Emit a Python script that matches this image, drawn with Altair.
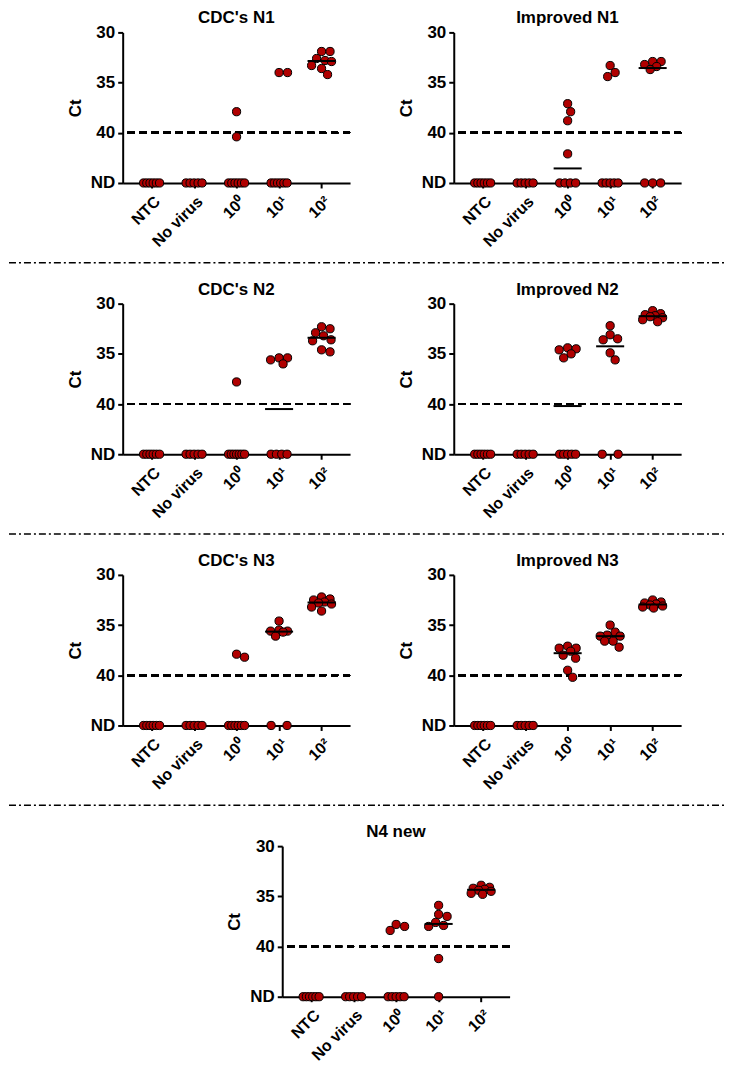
import json
import altair as alt
import pandas as pd

# ---------------- data (Ct values; None = not detected, drawn at "ND") ----------------
ND = None
CATEGORIES = ["NTC", "No virus", "10⁰", "10¹", "10²"]
PANEL_TITLES = ["CDC's N1", "Improved N1", "CDC's N2", "Improved N2",
                "CDC's N3", "Improved N3", "N4 new"]

cdc_n1 = [
    [ND] * 6,
    [ND] * 5,
    [37.9, 40.4] + [ND] * 6,
    [34.0, 34.0] + [ND] * 6,
    [31.9, 31.9, 32.6, 32.8, 32.9, 33.3, 33.6, 34.2],
]
improved_n1 = [
    [ND] * 6,
    [ND] * 5,
    [37.1, 37.9, 38.8, 42.1] + [ND] * 4,
    [33.3, 34.0, 34.4] + [ND] * 5,
    [32.9, 32.9, 33.2, 33.4, 33.7] + [ND] * 3,
]
cdc_n2 = [
    [ND] * 6,
    [ND] * 5,
    [37.8] + [ND] * 7,
    [35.4, 35.4, 35.6, 36.0] + [ND] * 4,
    [32.3, 32.5, 32.9, 33.2, 33.6, 33.7, 34.6, 34.8],
]
improved_n2 = [
    [ND] * 6,
    [ND] * 5,
    [34.4, 34.5, 34.6, 35.0, 35.4] + [ND] * 5,
    [32.2, 33.1, 33.5, 33.6, 34.9, 35.6] + [ND] * 2,
    [30.7, 31.0, 31.1, 31.2, 31.3, 31.4, 31.6, 31.8],
]
cdc_n3 = [
    [ND] * 6,
    [ND] * 5,
    [37.9, 38.2] + [ND] * 6,
    [34.6, 35.5, 35.6, 35.6, 35.7, 36.1] + [ND] * 2,
    [32.2, 32.4, 32.5, 32.7, 32.8, 32.9, 33.2, 33.6],
]
improved_n3 = [
    [ND] * 6,
    [ND] * 5,
    [37.1, 37.3, 37.3, 37.6, 38.0, 38.3, 39.5, 40.2],
    [35.0, 35.7, 36.0, 36.1, 36.1, 36.6, 36.6, 37.2],
    [32.5, 32.7, 32.8, 32.9, 33.0, 33.1, 33.2, 33.3],
]
n4_new = [
    [ND] * 6,
    [ND] * 5,
    [37.8, 38.0, 38.4] + [ND] * 5,
    [35.9, 36.8, 37.0, 37.6, 37.9, 38.0, 41.2] + [ND],
    [33.9, 34.1, 34.2, 34.3, 34.4, 34.5, 34.7, 34.8],
]
PANEL_DATA = [cdc_n1, improved_n1, cdc_n2, improved_n2, cdc_n3, improved_n3, n4_new]

ND_LEVEL = 45
Y_TICKS = [30, 35, 40, 45]
CUTOFF = 40

# ---------------- styling ----------------
FONT = "Liberation Sans"
RED = "#b00000"
W, H = 228, 151
X_DOMAIN = [-0.68, 4.67]
PX_PER_CAT = W / (X_DOMAIN[1] - X_DOMAIN[0])
PX_PER_CT = H / 15.0


def spread(values):
    """Scatter-dot-plot layout: horizontal offsets (in category units) per point."""
    rows = []
    nd = [v for v in values if v is None]
    det = sorted(v for v in values if v is not None)
    n = len(nd)
    if n == 1:
        offs = [0.0]
    else:
        offs = [-8 + i * 16.0 / (n - 1) for i in range(n)]
    for o in offs:
        rows.append((ND_LEVEL, o / PX_PER_CAT))
    placed = []
    cands = [0.0]
    for k in range(1, 25):
        cands += [k * 0.5, -k * 0.5]
    cands = [c for c in cands if abs(c) <= 10]
    dmin = 8.5
    for v in det:
        y = v * PX_PER_CT
        best = None
        for c in cands:
            if all((c - px) ** 2 + (y - py) ** 2 >= dmin ** 2 for px, py in placed):
                best = c
                break
        if best is None:
            best = max(cands, key=lambda c: min((c - px) ** 2 + (y - py) ** 2 for px, py in placed))
        placed.append((best, y))
        rows.append((v, best / PX_PER_CAT))
    return rows


def panel_frame(data):
    recs = []
    for ci, vals in enumerate(data):
        for ct, off in spread(vals):
            recs.append({"cat": ci, "x": ci + off, "ct": ct})
    return pd.DataFrame(recs)


label_expr = json.dumps(CATEGORIES) + "[datum.value]"
x_scale = alt.Scale(domain=X_DOMAIN, nice=False, zero=False)
y_scale = alt.Scale(domain=[30, ND_LEVEL], reverse=True, nice=False, zero=False)

x_axis = alt.Axis(values=list(range(len(CATEGORIES))), labelExpr=label_expr, title=None,
                  grid=False, labelAngle=-45, labelAlign="right", labelBaseline="top",
                  labelPadding=5, labelFontSize=16, labelFontWeight="bold", labelFont=FONT,
                  labelColor="black", tickSize=5, tickWidth=2, tickColor="black",
                  domainWidth=2, domainColor="black", labelOverlap=False)
y_axis = alt.Axis(values=Y_TICKS, labelExpr="datum.value == 45 ? 'ND' : datum.label",
                  title="Ct", titleFontSize=17, titleFont=FONT, titleFontWeight="bold",
                  titleColor="black", titlePadding=6, grid=False, labelFontSize=17,
                  labelFontWeight="bold", labelFont=FONT, labelColor="black", labelPadding=3,
                  tickSize=5, tickWidth=2, tickColor="black", domainWidth=2,
                  domainColor="black")


def make_panel(title, data):
    df = panel_frame(data)
    base = alt.Chart(df)
    cutoff = base.mark_rule(strokeDash=[7, 5], strokeWidth=2, color="black").encode(
        y=alt.datum(CUTOFF, scale=y_scale, axis=y_axis)
    )
    pts = base.mark_circle(size=68, color=RED, opacity=1, stroke="black", strokeWidth=1).encode(
        x=alt.X("x:Q", scale=x_scale, axis=x_axis),
        y=alt.Y("ct:Q", scale=y_scale),
    )
    med = base.transform_aggregate(
        med="median(ct)", groupby=["cat"]
    ).transform_filter(
        "datum.med < 45"
    ).transform_calculate(
        x1="datum.cat - 0.33", x2="datum.cat + 0.33"
    ).mark_rule(strokeWidth=2, color="black").encode(
        x=alt.X("x1:Q", scale=x_scale), x2="x2:Q", y=alt.Y("med:Q", scale=y_scale)
    )
    return alt.layer(cutoff, pts, med).properties(
        width=W, height=H,
        title=alt.TitleParams(title, fontSize=17, fontWeight="bold", font=FONT, color="black",
                              anchor="middle", frame="group", offset=-4),
    )


def spacer(w, h=1):
    return alt.Chart(pd.DataFrame({"a": [0]})).mark_rule(opacity=0).encode(
        x=alt.value(0), y=alt.value(0)).properties(width=w, height=h)


def separator(h, ypos):
    return alt.Chart(pd.DataFrame({"a": [0]})).mark_rule(
        strokeDash=[7, 3, 2, 3], strokeWidth=1.5, color="black"
    ).encode(x=alt.value(0), x2=alt.value(717), y=alt.value(ypos)).properties(width=717, height=h)


panels = [make_panel(t, d) for t, d in zip(PANEL_TITLES, PANEL_DATA)]

GAP = 46
row1 = alt.hconcat(spacer(11), panels[0], panels[1], spacing=GAP)
row2 = alt.hconcat(spacer(11), panels[2], panels[3], spacing=GAP)
row3 = alt.hconcat(spacer(11), panels[4], panels[5], spacing=GAP)
row4 = alt.hconcat(spacer(171), panels[6], spacing=GAP)

chart = alt.vconcat(
    row1, separator(31, 13), row2, separator(31, 13), row3, separator(31, 13), row4,
    spacing=0,
).properties(padding=0).configure_view(stroke=None)

chart.save("out.html", embed_options={"renderer": "svg", "actions": False})
